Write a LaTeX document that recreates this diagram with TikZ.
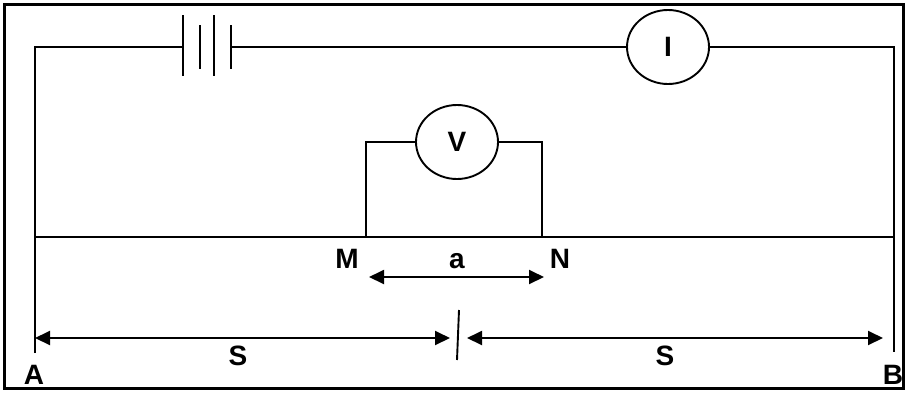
\documentclass[tikz,border=0pt]{standalone}
\usepackage{fontspec}
\setmainfont{Liberation Sans}
\usetikzlibrary{shapes.geometric, arrows.meta}

\tikzset{
  meter/.style = {draw, ellipse, minimum width = 82pt, minimum height = 74pt, inner sep = 0pt, font = \fontsize{28}{30}\selectfont\bfseries},
  lbl/.style = {anchor = base, inner sep = 0pt, font = \fontsize{28}{30}\selectfont\bfseries},
  dim/.style = {{Triangle[length=15pt, width=14pt]}-{Triangle[length=15pt, width=14pt]}},
  plate/.style = {line width = 2.8pt}
}

\begin{document}
\begin{tikzpicture}[x=1pt, y=-1pt, line width=1.9pt]
\useasboundingbox (0,0) rectangle (907,392);
\draw[line width = 2.8pt] (4.5,4.5) rectangle (903.5,388.5);

\coordinate (tl) at (35,47);
\coordinate (tr) at (894,47);
\coordinate (rodL) at (35,237);
\coordinate (rodR) at (894,237);
\coordinate (endA) at (35,353);
\coordinate (endB) at (894,352);
\coordinate (batP) at (183,47);
\coordinate (batN) at (231,47);
\coordinate (M) at (366,237);
\coordinate (N) at (542,237);

\node[meter] (amm) at (668,47) {I};
\node[meter] (volt) at (457,142) {V};

\draw (endA) -- (tl) -- (batP);
\draw[plate] (183,15) -- (183,76);
\draw[plate] (200,25) -- (200,69);
\draw[plate] (214,15) -- (214,76);
\draw[plate] (231,25) -- (231,69);
\draw (batN) -- (amm.west);
\draw (amm.east) -- (tr) -- (endB);

\draw (rodL) -- (rodR);
\draw (M) |- (volt.west);
\draw (N) |- (volt.east);

\node[lbl] (lblM) at (347,268) {M};
\node[lbl] (lbla) at (457,268) {a};
\node[lbl] (lblN) at (560,268) {N};
\coordinate (aL) at (369,277);
\coordinate (aR) at (544,277);
\draw[dim] (aL) -- (aR);

\coordinate (sL) at (35,338);
\coordinate (sM1) at (450,338);
\coordinate (sM2) at (467,338);
\coordinate (sR) at (883,338);
\draw[dim] (sL) -- (sM1);
\draw[dim] (sM2) -- (sR);
\coordinate (cutT) at (459,310);
\coordinate (cutB) at (457,360);
\draw (cutT) -- (cutB);

\node[lbl] (lblS1) at (238,365) {S};
\node[lbl] (lblS2) at (665,365) {S};
\node[lbl] (lblA) at (34,384) {A};
\node[lbl] (lblB) at (893,384) {B};
\end{tikzpicture}
\end{document}
